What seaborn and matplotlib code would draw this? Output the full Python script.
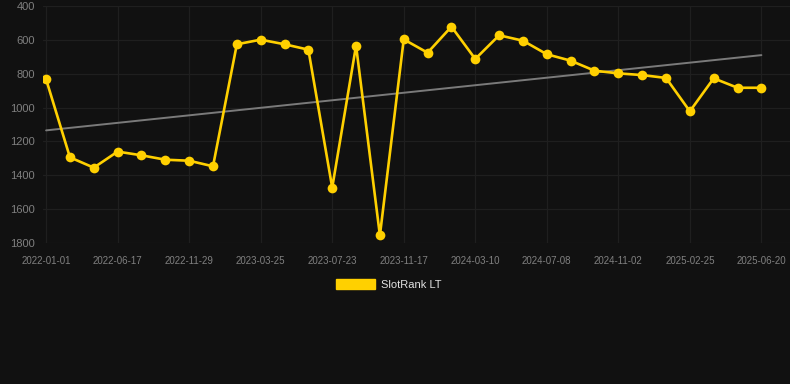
import matplotlib
matplotlib.use("Agg")
import matplotlib.pyplot as plt
from matplotlib.patches import Patch
import seaborn as sns
import numpy as np
import pandas as pd

# SlotRank LT over time (lower rank = better, axis is inverted)
rank = [833, 1294, 1355, 1260, 1282, 1308, 1314, 1347,
        626, 599, 626, 658, 1473, 634, 1755,
        597, 676, 522, 713, 573, 605, 685, 723,
        782, 798, 808, 825, 1022, 827, 883, 883]
tick_labels = ["2022-01-01", "2022-06-17", "2022-11-29", "2023-03-25",
               "2023-07-23", "2023-11-17", "2024-03-10", "2024-07-08",
               "2024-11-02", "2025-02-25", "2025-06-20"]
y_ticks = [400, 600, 800, 1000, 1200, 1400, 1600, 1800]

BG = "#111111"
GOLD = "#FFD000"
GRID = "#1f1f1f"
TXT = "#808080"

sns.set_theme(style="dark")
plt.rcParams["font.family"] = ["Liberation Sans", "DejaVu Sans"]

df = pd.DataFrame({"idx": np.arange(len(rank)), "rank": rank})

fig = plt.figure(figsize=(7.9, 3.84), dpi=100, facecolor=BG)
ax = fig.add_axes([43 / 790, 1 - 243 / 384, 1 - 43 / 790, (243 - 6) / 384])
ax.set_facecolor(BG)

# trend line (least squares over the series)
k, b = np.polyfit(df["idx"], df["rank"], 1)
ax.plot(df["idx"], k * df["idx"] + b, color="#7a7a7a", lw=1.4, zorder=2)

sns.lineplot(data=df, x="idx", y="rank", ax=ax, color=GOLD, lw=1.9,
             marker="o", markersize=7, markeredgewidth=0, zorder=3,
             solid_joinstyle="miter")

ax.set_ylim(1800, 400)
ax.set_xlim(-0.13, 31.2)
ax.set_yticks(y_ticks)
ax.set_xticks(df["idx"][::3])
ax.set_xticklabels(tick_labels)
ax.set_xlabel("")
ax.set_ylabel("")

ax.grid(True, color=GRID, lw=0.9)
for s in ax.spines.values():
    s.set_visible(False)
ax.tick_params(axis="y", length=0, pad=6, labelsize=8, labelcolor=TXT)
ax.tick_params(axis="x", length=0, pad=9, labelsize=7, labelcolor=TXT)

handle = Patch(facecolor=GOLD, edgecolor=GOLD)
leg = fig.legend([handle], ["SlotRank LT"], loc="center",
                 bbox_to_anchor=(0.492, 0.26), frameon=False,
                 fontsize=8, handlelength=3.5, handleheight=1.0,
                 handletextpad=0.6)
for t in leg.get_texts():
    t.set_color("#e0e0e0")

fig.savefig("out.png", dpi=100, facecolor=BG)
